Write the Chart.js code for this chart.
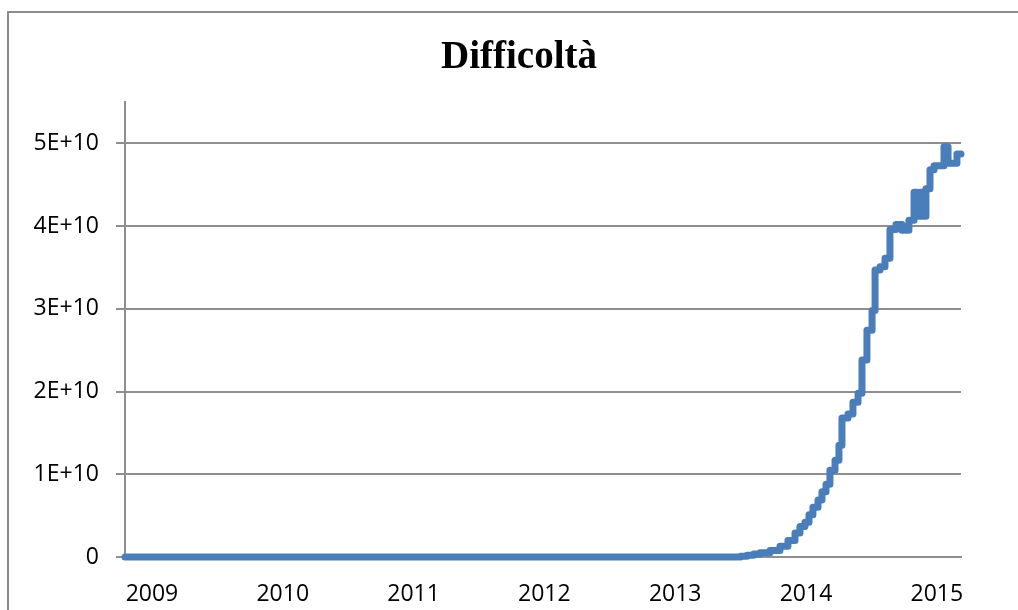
<!DOCTYPE html>
<html>
<head>
<meta charset="utf-8">
<script src="https://cdn.jsdelivr.net/npm/chart.js@4.4.0/dist/chart.umd.min.js"></script>
<style>
  body { margin: 0; background: #fff; overflow: hidden; }
  #wrap { position: relative; width: 1018px; height: 610px; }
  #frame {
    position: absolute; left: 7px; top: 11px; width: 1100px; height: 700px;
    border-left: 2px solid #8c8c8c; border-top: 2px solid #8c8c8c;
    pointer-events: none;
  }
</style>
</head>
<body>
<div id="wrap">
  <canvas id="chart" width="1018" height="610"></canvas>
  <div id="frame"></div>
</div>
<script>
// x positions in years (label scale), values = difficulty
const dateYr = [
  2008.794, 2010.0, 2011.0, 2012.0, 2013.0, 2013.190, 2013.419, 2013.500, 2013.549, 2013.600, 2013.648,
  2013.725, 2013.801, 2013.862, 2013.916, 2013.954, 2013.992, 2014.023, 2014.053,
  2014.092, 2014.122, 2014.153, 2014.183, 2014.222, 2014.252, 2014.275, 2014.321,
  2014.359, 2014.398, 2014.428, 2014.466, 2014.505, 2014.528, 2014.566, 2014.604,
  2014.642, 2014.688, 2014.734, 2014.787, 2014.826, 2014.849, 2014.872, 2014.894,
  2014.917, 2014.948, 2014.979, 2015.055, 2015.086, 2015.154, 2015.185
];
const difficulty = [
  0, 0, 0, 0, 0, 0, 0, 0.01e10, 0.02e10, 0.035e10, 0.05e10,
  0.08e10, 0.13e10, 0.20e10, 0.29e10, 0.37e10, 0.42e10, 0.51e10, 0.60e10,
  0.69e10, 0.79e10, 0.88e10, 1.05e10, 1.17e10, 1.35e10, 1.68e10, 1.73e10,
  1.87e10, 1.98e10, 2.38e10, 2.74e10, 2.98e10, 3.47e10, 3.51e10, 3.61e10,
  3.96e10, 4.02e10, 3.95e10, 4.07e10, 4.41e10, 4.12e10, 4.41e10, 4.12e10,
  4.45e10, 4.68e10, 4.73e10, 4.96e10, 4.76e10, 4.87e10, 4.87e10
];
const yearTicks = [2009, 2010, 2011, 2012, 2013, 2014, 2015];
const valueTicks = [0, 1e10, 2e10, 3e10, 4e10, 5e10];
const chartTitle = "Difficoltà";

const points = dateYr.map((x, i) => ({ x: x, y: difficulty[i] }));
const gridGray = "#8e8e8e";
const tickFont = { family: "'Open Sans', 'Liberation Sans', sans-serif", size: 23 };

// title centred on the whole frame, not on the plot box
const titlePlugin = {
  id: "frameTitle",
  afterDraw(chart) {
    const ctx = chart.ctx;
    ctx.save();
    ctx.font = "bold 39px 'Liberation Serif', serif";
    ctx.fillStyle = "#000";
    ctx.textAlign = "center";
    ctx.textBaseline = "middle";
    ctx.fillText(chartTitle, chart.width / 2 + 10, 58);
    ctx.restore();
  }
};

new Chart(document.getElementById("chart"), {
  type: "line",
  data: {
    datasets: [
      {
        label: chartTitle,
        data: points,
        stepped: true,
        borderColor: "#4a7ebb",
        borderWidth: 7,
        borderJoinStyle: "round",
        borderCapStyle: "round",
        pointRadius: 0,
        fill: false,
        clip: 8
      }
    ]
  },
  options: {
    responsive: false,
    animation: false,
    layout: { padding: { left: 0, right: 57, top: 102, bottom: 0 } },
    plugins: {
      legend: { display: false },
      tooltip: { enabled: false },
      title: { display: false }
    },
    scales: {
      x: {
        type: "linear",
        min: 2008.794,
        max: 2015.185,
        afterBuildTicks: (scale) => { scale.ticks = yearTicks.map(v => ({ value: v })); },
        afterFit: (scale) => { scale.height = 53; },
        grid: { display: false },
        border: { display: true, color: gridGray, width: 2 },
        ticks: {
          color: "#000",
          font: tickFont,
          padding: 16,
          maxRotation: 0,
          autoSkip: false,
          callback: (v) => String(v)
        }
      },
      y: {
        min: 0,
        max: 5.5e10,
        afterBuildTicks: (scale) => { scale.ticks = valueTicks.map(v => ({ value: v })); },
        afterFit: (scale) => { scale.width = 125; },
        grid: { color: gridGray, lineWidth: 2, drawTicks: true, tickLength: 9 },
        border: { display: true, color: gridGray, width: 2 },
        ticks: {
          color: "#000",
          font: tickFont,
          padding: 17,
          callback: (v) => (v === 0 ? "0" : (v / 1e10) + "E+10")
        }
      }
    }
  },
  plugins: [titlePlugin]
});
</script>
</body>
</html>
